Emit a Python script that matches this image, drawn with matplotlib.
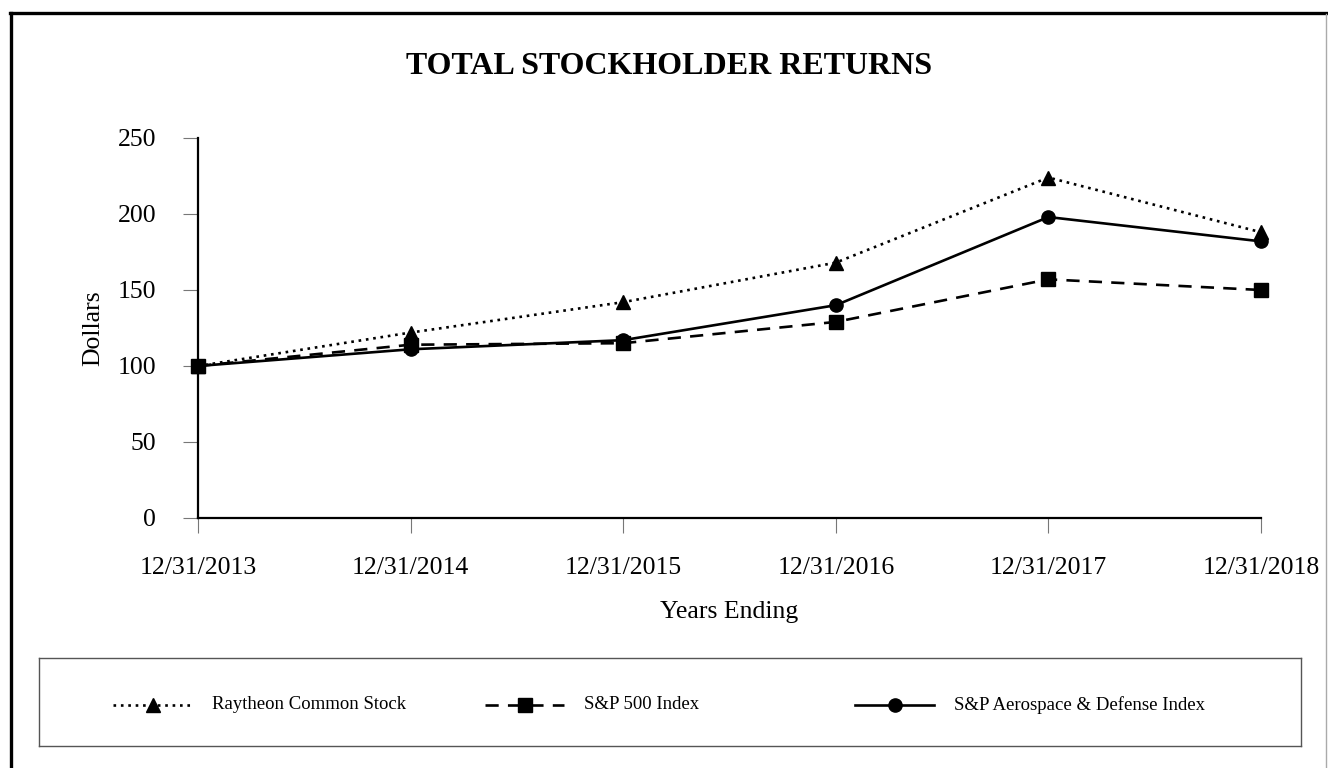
import matplotlib
matplotlib.use("Agg")
import matplotlib.pyplot as plt
from matplotlib.lines import Line2D

plt.rcParams['font.family'] = ['Liberation Serif', 'DejaVu Serif']

years = ['12/31/2013', '12/31/2014', '12/31/2015', '12/31/2016', '12/31/2017', '12/31/2018']
raytheon = [100, 122, 142, 168, 224, 188]
sp500 = [100, 114, 115, 129, 157, 150]
aero = [100, 111, 117, 140, 198, 182]
names = ['Raytheon Common Stock', 'S&P 500 Index', 'S&P Aerospace & Defense Index']
yticks = [0, 50, 100, 150, 200, 250]

W, H = 1328, 768
fig = plt.figure(figsize=(W / 100, H / 100), dpi=100)

# outer frame (thick top/left, thin grey right)
fig.add_artist(Line2D([11 / W, 11 / W], [0, 1 - 13 / H], color='black', lw=2.4))
fig.add_artist(Line2D([10 / W, 1], [1 - 13 / H, 1 - 13 / H], color='black', lw=2.4))
fig.add_artist(Line2D([1326 / W, 1326 / W], [0, 1 - 14 / H], color='#aaaaaa', lw=1.0))

ax = fig.add_axes([198 / W, 1 - 518 / H, (1261 - 198) / W, 380 / H])
x = list(range(len(years)))
styles = [(raytheon, (0, (1, 1.8)), '^'), (sp500, (0, (5, 3.5)), 's'), (aero, '-', 'o')]
for vals, ls, mk in styles:
    ax.plot(x, vals, color='black', lw=1.9, linestyle=ls, marker=mk, markersize=9.5,
            clip_on=False)

ax.set_xlim(0, 5)
ax.set_ylim(0, 250)
ax.set_xticks(x)
ax.set_xticklabels(years)
ax.set_yticks(yticks)
for s in ['top', 'right']:
    ax.spines[s].set_visible(False)
for s in ['left', 'bottom']:
    ax.spines[s].set_linewidth(1.6)
ax.tick_params(axis='both', direction='out', length=11, width=0.8, color='#777777',
               labelsize=18.5)
ax.tick_params(axis='y', pad=19)
ax.tick_params(axis='x', pad=17)
ax.set_ylabel('Dollars', fontsize=18.5, labelpad=10)
ax.set_xlabel('Years Ending', fontsize=18.5, labelpad=16)

fig.text(0.504, 1 - 67 / H, 'TOTAL STOCKHOLDER RETURNS', ha='center', va='center',
         fontsize=23, fontweight='bold')

# legend box
lax = fig.add_axes([39 / W, 1 - 746 / H, (1301 - 39) / W, 88 / H])
lax.set_xlim(39, 1301)
lax.set_ylim(0, 1)
lax.set_xticks([])
lax.set_yticks([])
for s in lax.spines.values():
    s.set_color('#555555')
    s.set_linewidth(1.0)
starts = [113, 485, 855]
for (vals, ls, mk), name, x0 in zip(styles, names, starts):
    lax.plot([x0, x0 + 79], [0.47, 0.47], color='black', lw=1.9, linestyle=ls)
    lax.plot([x0 + 40], [0.47], color='black', marker=mk, markersize=9.5, linestyle='none')
    lax.text(x0 + 99, 0.47, name, ha='left', va='center', fontsize=13.5)

fig.savefig('out.png', dpi=100)
